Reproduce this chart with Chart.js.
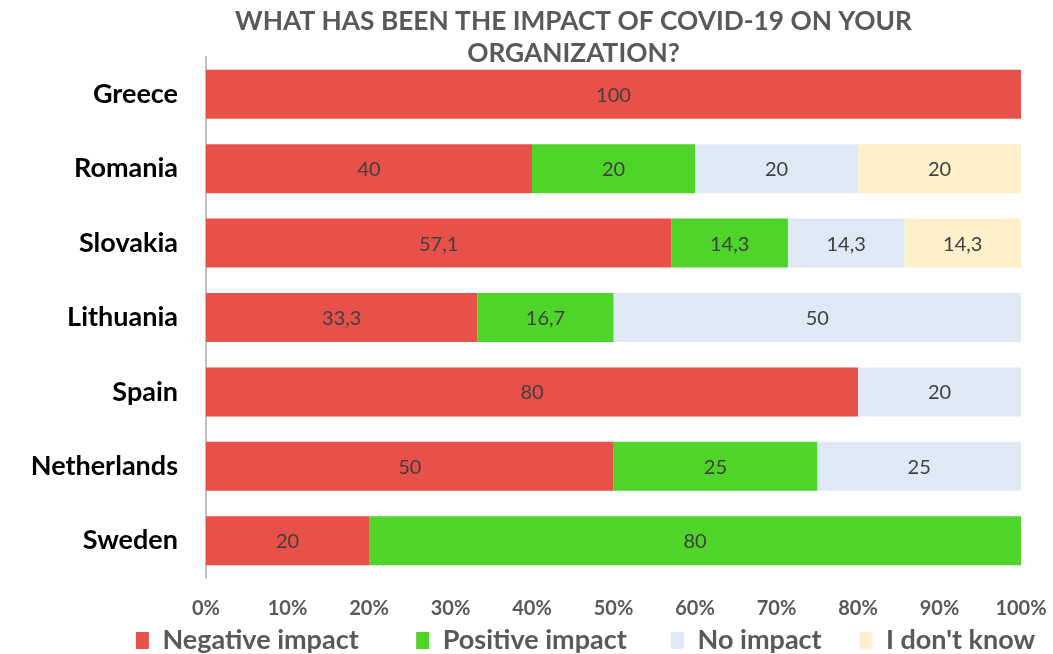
<!DOCTYPE html>
<html>
<head>
<meta charset="utf-8">
<script src="https://cdn.jsdelivr.net/npm/chart.js@4"></script>
<style>
html,body{margin:0;padding:0;background:#fff;}
#wrap{width:1053px;height:654px;position:relative;}
</style>
</head>
<body>
<div id="wrap"><canvas id="c"></canvas></div>
<script>
const titleLines = ['WHAT HAS BEEN THE IMPACT OF COVID-19 ON YOUR', 'ORGANIZATION?'];
const countries = ['Greece', 'Romania', 'Slovakia', 'Lithuania', 'Spain', 'Netherlands', 'Sweden'];
const seriesNames = ['Negative impact', 'Positive impact', 'No impact', "I don't know"];
const negative = [100, 40, 57.1, 33.3, 80, 50, 20];
const positive = [0, 20, 14.3, 16.7, 0, 25, 80];
const noImpact = [0, 20, 14.3, 50, 20, 25, 0];
const dontKnow = [0, 20, 14.3, 0, 0, 0, 0];
const colors = ['#E8504A', '#4FD42A', '#DEE9F5', '#FFF0CC'];

const FONT = 'Lato, "Open Sans", sans-serif';
// extra spacing after each legend entry (number of no-break spaces)
const legendGaps = [8, 6, 5, 0];

const titlePlugin = {
  id: 'customTitle',
  afterDraw(chart) {
    const ctx = chart.ctx;
    ctx.save();
    ctx.font = 'bold 26.3px ' + FONT;
    ctx.fillStyle = '#595959';
    ctx.textAlign = 'center';
    ctx.textBaseline = 'middle';
    const cx = (chart.chartArea.left + chart.chartArea.right) / 2 - 40;
    ctx.fillText(titleLines[0], cx, 22);
    ctx.fillText(titleLines[1], cx, 54);
    ctx.restore();
  }
};

const legendShift = {
  id: 'legendShift',
  afterLayout(chart) {
    const l = chart.legend;
    if (l) { l.left += 59; l.right += 59; }
  }
};

const labelPlugin = {
  id: 'barLabels',
  afterDatasetsDraw(chart) {
    const ctx = chart.ctx;
    ctx.save();
    ctx.font = '20px ' + FONT;
    ctx.fillStyle = '#404040';
    ctx.textAlign = 'center';
    ctx.textBaseline = 'middle';
    chart.data.datasets.forEach((ds, di) => {
      const meta = chart.getDatasetMeta(di);
      meta.data.forEach((bar, i) => {
        const v = ds.data[i];
        if (!v) return;
        const p = bar.getProps(['x', 'y', 'base'], true);
        const x = (p.x + p.base) / 2;
        ctx.fillText(String(v).replace('.', ','), x, p.y + 1);
      });
    });
    ctx.restore();
  }
};

const seriesData = [negative, positive, noImpact, dontKnow];

new Chart(document.getElementById('c'), {
  type: 'bar',
  data: {
    labels: countries,
    datasets: seriesNames.map((name, i) => ({
      label: name,
      data: seriesData[i],
      backgroundColor: colors[i],
      borderWidth: 0,
      barPercentage: 1,
      categoryPercentage: 0.658
    }))
  },
  options: {
    indexAxis: 'y',
    responsive: true,
    maintainAspectRatio: false,
    animation: false,
    layout: { padding: { top: 57, left: 0, right: 0, bottom: -10 } },
    scales: {
      x: {
        stacked: true,
        min: 0,
        max: 100,
        grid: { display: false, drawTicks: false },
        border: { display: false },
        ticks: {
          stepSize: 10,
          padding: 19,
          color: '#595959',
          font: { family: FONT, size: 20, weight: 'bold' },
          callback: v => v + '%'
        },
        afterFit(scale) {
          scale.height = 44;
          scale.paddingRight = 32;
          scale.paddingLeft = 0;
        }
      },
      y: {
        stacked: true,
        grid: { display: false, drawTicks: false },
        border: { display: true, color: '#BFBFBF', width: 2 },
        ticks: {
          padding: 28,
          color: '#000000',
          font: { family: FONT, size: 27, weight: 'bold' }
        },
        afterFit(scale) { scale.width = 206; }
      }
    },
    plugins: {
      title: { display: false },
      tooltip: { enabled: false },
      legend: {
        position: 'bottom',
        labels: {
          boxWidth: 13,
          boxHeight: 17,
          padding: 5,
          color: '#595959',
          font: { family: FONT, size: 27, weight: 'bold' },
          generateLabels(chart) {
            return chart.data.datasets.map((ds, i) => ({
              text: ds.label + '\u00A0'.repeat(legendGaps[i]),
              fillStyle: ds.backgroundColor,
              strokeStyle: ds.backgroundColor,
              lineWidth: 0,
              hidden: false,
              datasetIndex: i,
              fontColor: '#595959'
            }));
          }
        }
      }
    }
  },
  plugins: [titlePlugin, labelPlugin, legendShift]
});
</script>
</body>
</html>
